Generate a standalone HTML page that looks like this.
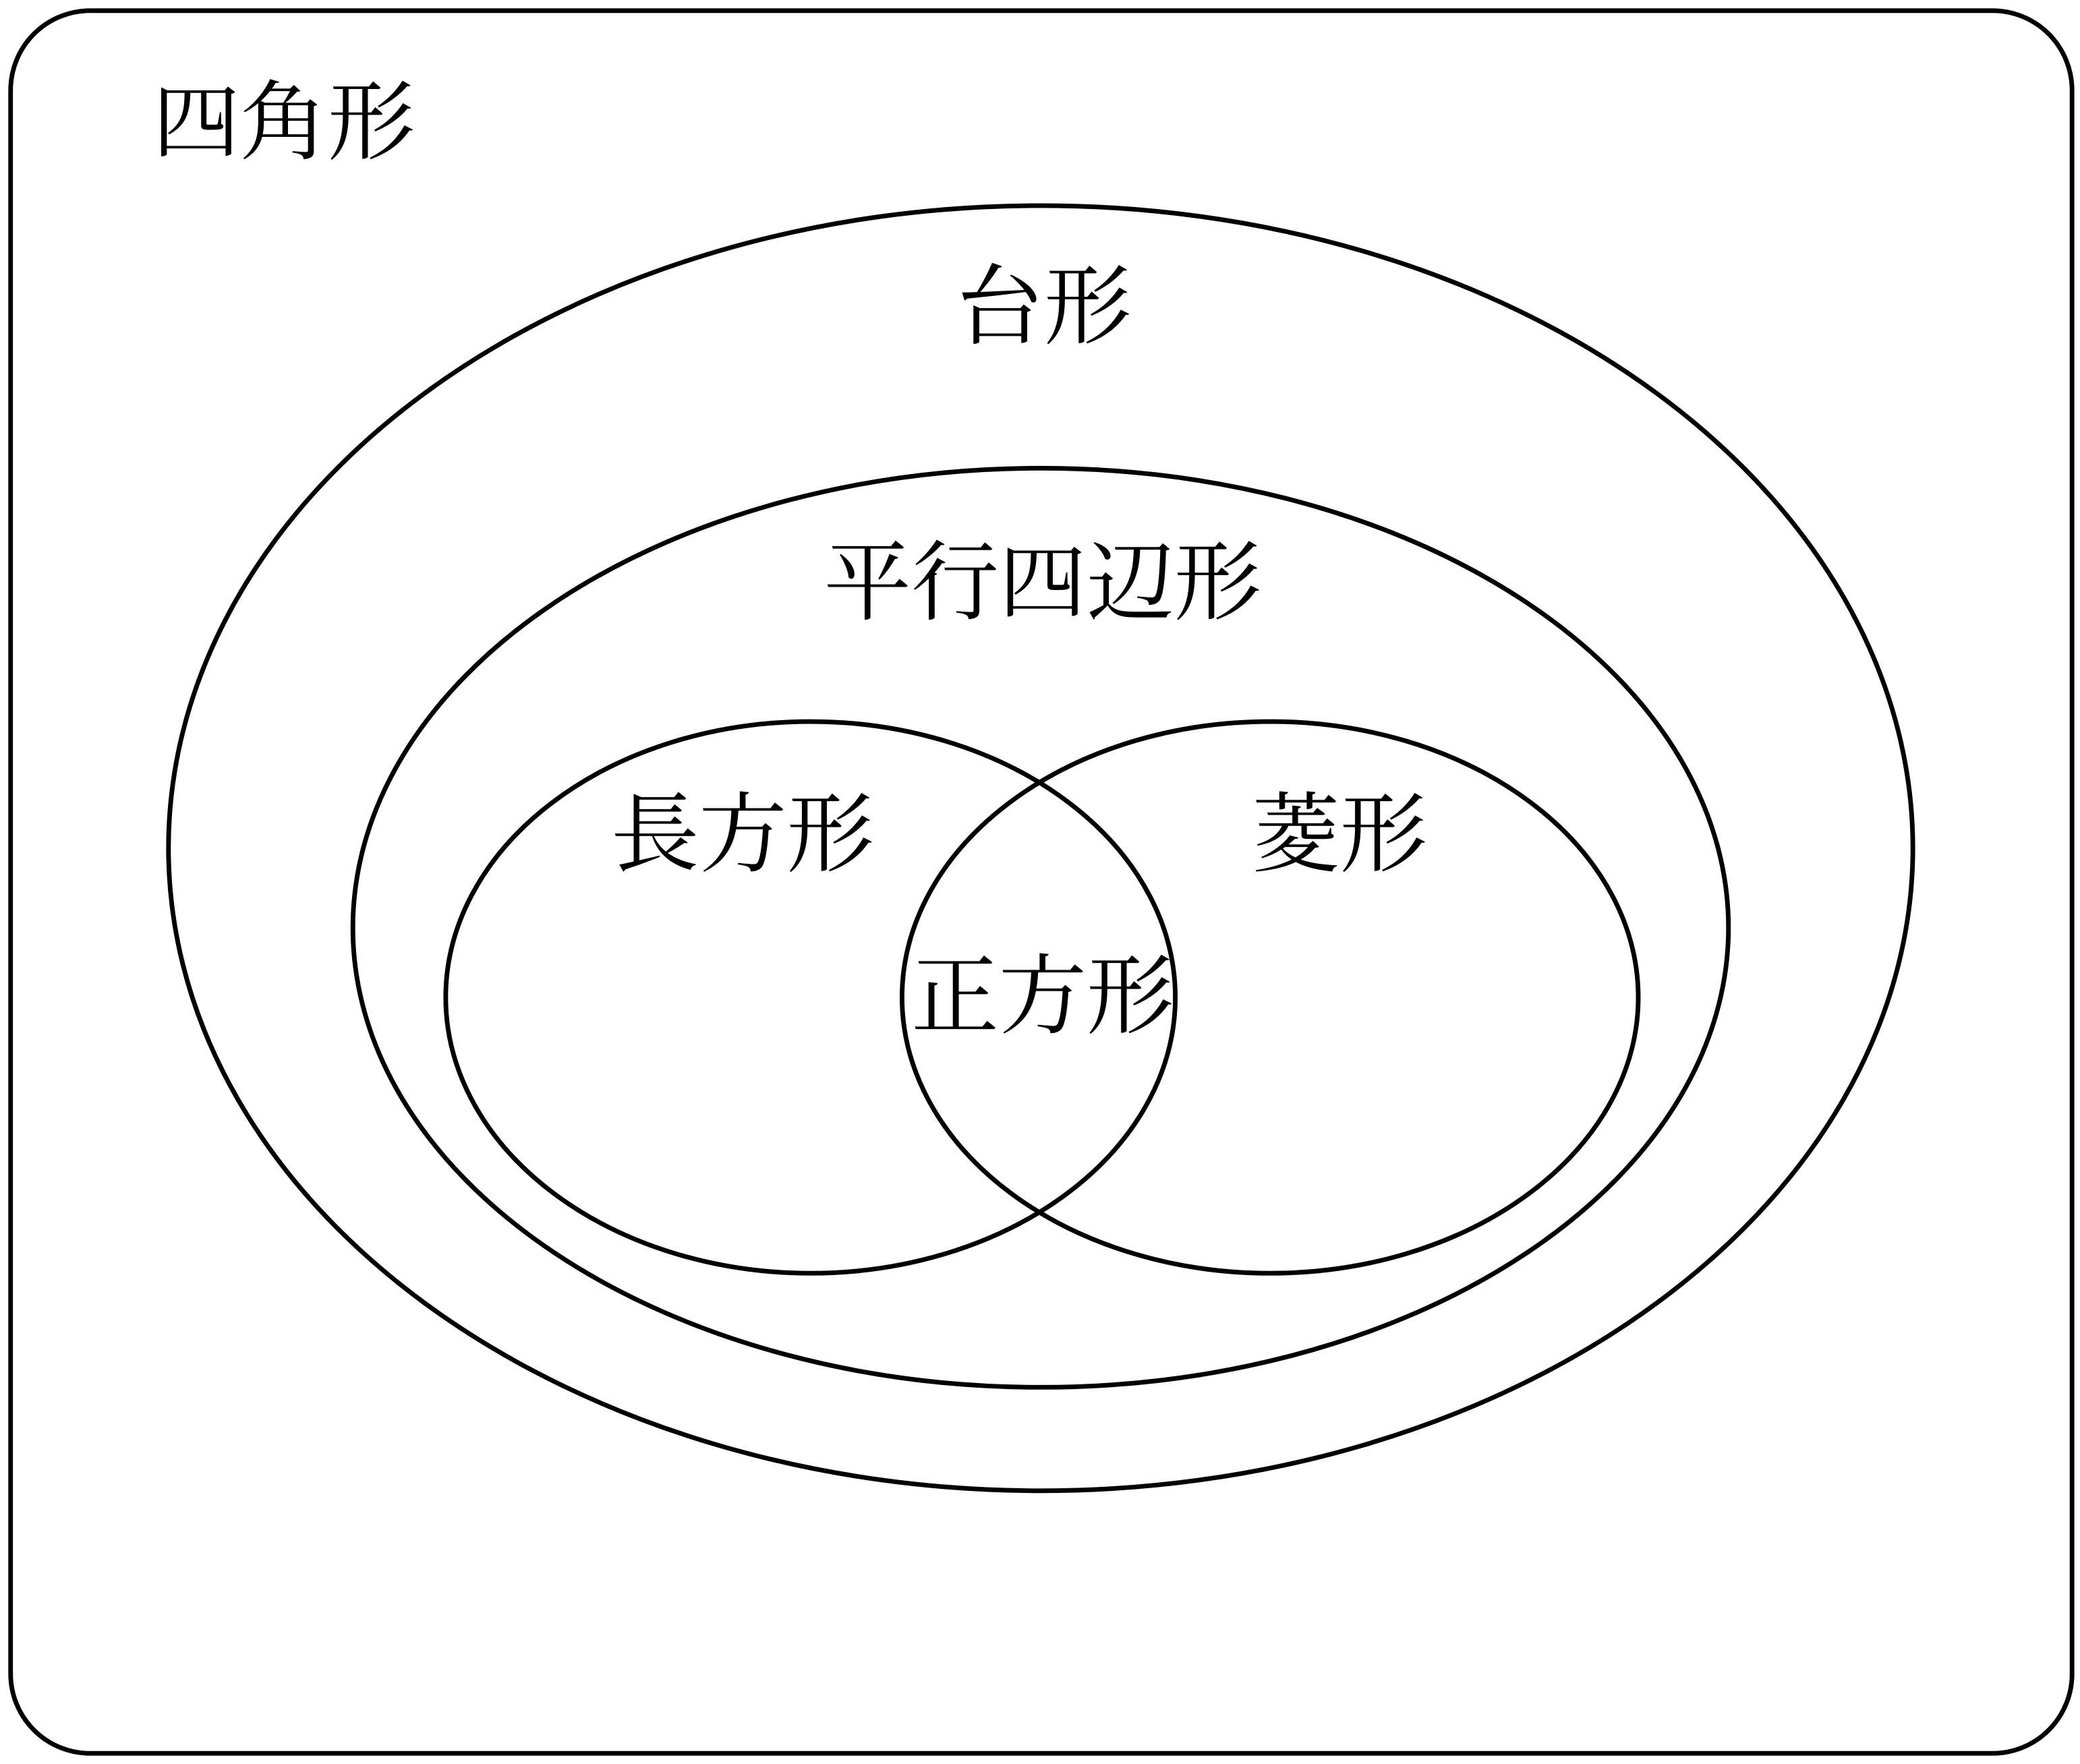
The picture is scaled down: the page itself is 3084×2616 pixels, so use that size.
<!DOCTYPE html>
<html><head><meta charset="utf-8">
<style>
html,body{margin:0;padding:0;background:#fff;}
svg{display:block;}
text{font-family:"Liberation Serif","Noto Serif CJK JP","Noto Serif CJK SC",serif;font-size:66px;fill:#000;}
</style></head>
<body>
<svg width="3084" height="2616" viewBox="0 0 1568 1330" xmlns="http://www.w3.org/2000/svg">
<rect x="8" y="8" width="1554" height="1314" rx="60" ry="60" fill="none" stroke="#000" stroke-width="3.5"/>
<ellipse cx="784.5" cy="639.5" rx="657.5" ry="484.5" fill="none" stroke="#000" stroke-width="3.5"/>
<ellipse cx="784.5" cy="699.5" rx="518.5" ry="346.5" fill="none" stroke="#000" stroke-width="3.5"/>
<ellipse cx="611" cy="752" rx="275" ry="208" fill="none" stroke="#000" stroke-width="3.5"/>
<ellipse cx="957.5" cy="752" rx="277.5" ry="208" fill="none" stroke="#000" stroke-width="3.5"/>
<text x="115" y="115">四角形</text>
<text x="787" y="254" text-anchor="middle">台形</text>
<text x="786" y="462" text-anchor="middle">平行四辺形</text>
<text x="560" y="652" text-anchor="middle">長方形</text>
<text x="1010" y="652" text-anchor="middle">菱形</text>
<text x="786" y="774" text-anchor="middle">正方形</text>
</svg>
</body></html>
